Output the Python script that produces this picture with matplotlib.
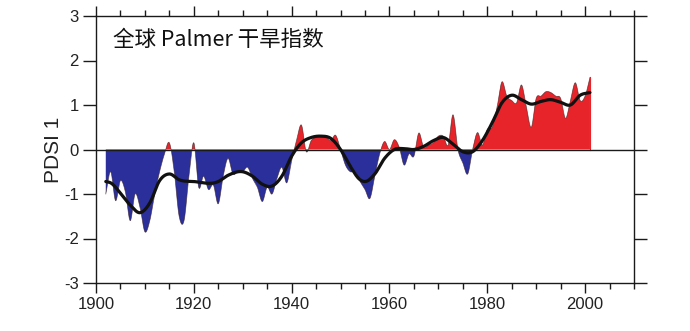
import numpy as np
import matplotlib
matplotlib.use("Agg")
import matplotlib.pyplot as plt
from matplotlib.ticker import MultipleLocator

plt.rcParams["axes.unicode_minus"] = False

# Annual global PDSI (leading mode) values
years = np.arange(1902, 2002)
pdsi = [
    -1.00, -0.50, -1.15, -0.70, -0.95, -1.60, -1.00, -1.30, -1.85, -1.60,   # 1902-1911
    -1.00, -0.50, -0.10, 0.15, -0.50, -1.50, -1.60, -0.60, 0.15, -0.85,     # 1912-1921
    -0.60, -0.90, -0.80, -1.22, -0.60, -0.20, -0.55, -0.50, -0.50, -0.40,   # 1922-1931
    -0.65, -0.85, -1.17, -0.85, -1.00, -0.65, -0.40, -0.75, -0.25, 0.20,    # 1932-1941
    0.55, -0.05, 0.20, 0.28, 0.30, 0.28, 0.20, 0.32, 0.00, -0.35,           # 1942-1951
    -0.50, -0.50, -0.72, -0.90, -1.10, -0.60, -0.10, 0.18, 0.00, 0.22,      # 1952-1961
    0.05, -0.35, -0.10, -0.15, 0.37, 0.05, 0.10, 0.15, 0.30, 0.30,          # 1962-1971
    0.10, 0.78, 0.00, -0.30, -0.55, 0.00, 0.38, 0.10, 0.45, 0.50,           # 1972-1981
    0.95, 1.52, 1.20, 1.10, 1.05, 1.45, 0.95, 0.50, 1.15, 1.20,             # 1982-1991
    1.30, 1.28, 1.20, 1.15, 0.70, 1.10, 1.50, 1.10, 1.20, 1.62,             # 1992-2001
]

# Low-pass filtered curve
smooth_years = [1902, 1903, 1905, 1907, 1909, 1911, 1913, 1915, 1917, 1920,
                1925, 1927, 1930, 1932, 1934, 1936, 1938, 1940, 1942, 1944,
                1946, 1948, 1950, 1952, 1954, 1955, 1957, 1959, 1961, 1963,
                1965, 1967, 1969, 1971, 1973, 1975, 1977, 1979, 1981, 1983,
                1985, 1987, 1989, 1991, 1993, 1995, 1997, 1999, 2001]
smooth_pdsi = [-0.72, -0.75, -0.98, -1.25, -1.42, -1.20, -0.70, -0.55, -0.68, -0.72,
               -0.72, -0.58, -0.50, -0.60, -0.78, -0.82, -0.60, -0.15, 0.15, 0.27,
               0.30, 0.25, 0.00, -0.38, -0.68, -0.72, -0.55, -0.20, 0.00, 0.02,
               0.00, 0.07, 0.20, 0.27, 0.12, -0.05, -0.05, 0.20, 0.60, 1.05,
               1.22, 1.12, 1.02, 1.08, 1.12, 1.06, 1.00, 1.22, 1.28]

x_ticks = [1900, 1920, 1940, 1960, 1980, 2000]
y_ticks = [-3, -2, -1, 0, 1, 2, 3]

RED = "#e8242b"
BLUE = "#2a2f9c"
INK = "#1a1a1a"


def smooth_path(x, y, n=24):
    """Cubic Hermite curve through the points, used only for drawing."""
    x = np.asarray(x, float)
    y = np.asarray(y, float)
    m = np.gradient(y, x)
    xs, ys = [], []
    t = np.linspace(0.0, 1.0, n, endpoint=False)
    h00 = 2 * t**3 - 3 * t**2 + 1
    h10 = t**3 - 2 * t**2 + t
    h01 = -2 * t**3 + 3 * t**2
    h11 = t**3 - t**2
    for i in range(len(x) - 1):
        h = x[i + 1] - x[i]
        xs.append(x[i] + t * h)
        ys.append(h00 * y[i] + h10 * h * m[i] + h01 * y[i + 1] + h11 * h * m[i + 1])
    xs.append([x[-1]])
    ys.append([y[-1]])
    return np.concatenate(xs), np.concatenate(ys)


fig = plt.figure(figsize=(6.9, 3.31), dpi=100)
ax = fig.add_axes([96 / 690, 48 / 331, 538 / 690, 267 / 331])

xd, yd = smooth_path(years, pdsi)
ax.fill_between(xd, yd, 0, where=yd >= 0, interpolate=True, color=RED, lw=0)
ax.fill_between(xd, yd, 0, where=yd <= 0, interpolate=True, color=BLUE, lw=0)
ax.plot(xd, yd, color="#3a2020", lw=0.5, alpha=0.7)
ax.plot([xd[-1], xd[-1]], [0, yd[-1]], color=RED, lw=0.8)

ax.axhline(0, color=INK, lw=1.0, zorder=3)

xs, ys = smooth_path(smooth_years, smooth_pdsi)
ax.plot(xs, ys, color="#111111", lw=2.3, zorder=4, solid_capstyle="round")

ax.set_xlim(1900, 2010)
ax.set_ylim(-3, 3)
ax.set_xticks(x_ticks)
ax.set_yticks(y_ticks)
ax.xaxis.set_minor_locator(MultipleLocator(5))
ax.tick_params(axis="both", which="major", direction="out", length=7, width=1.0,
               color=INK, labelsize=12, labelcolor="#222222", pad=3,
               top=True, right=True, labeltop=False, labelright=False)
ax.tick_params(axis="x", which="minor", direction="out", length=4, width=1.0,
               color=INK, top=True)
ax.tick_params(axis="y", which="major", length=9.5)
for lab in ax.get_xticklabels() + ax.get_yticklabels():
    lab.set_family("Liberation Sans")
for sp in ax.spines.values():
    sp.set_color(INK)
    sp.set_linewidth(1.0)

fig.text(53 / 690, 1 - 150 / 331, "PDSI 1", rotation=90, ha="center", va="center",
         fontsize=15, family="Liberation Sans", color="#222222")
fig.text(113 / 690, 1 - 40 / 331, "全球 Palmer 干旱指数", ha="left", va="center",
         fontsize=15.5, fontweight="light",
         family=["Noto Sans CJK SC", "DejaVu Sans"], color="#111111")

fig.savefig("out.png", dpi=100, facecolor="white")
